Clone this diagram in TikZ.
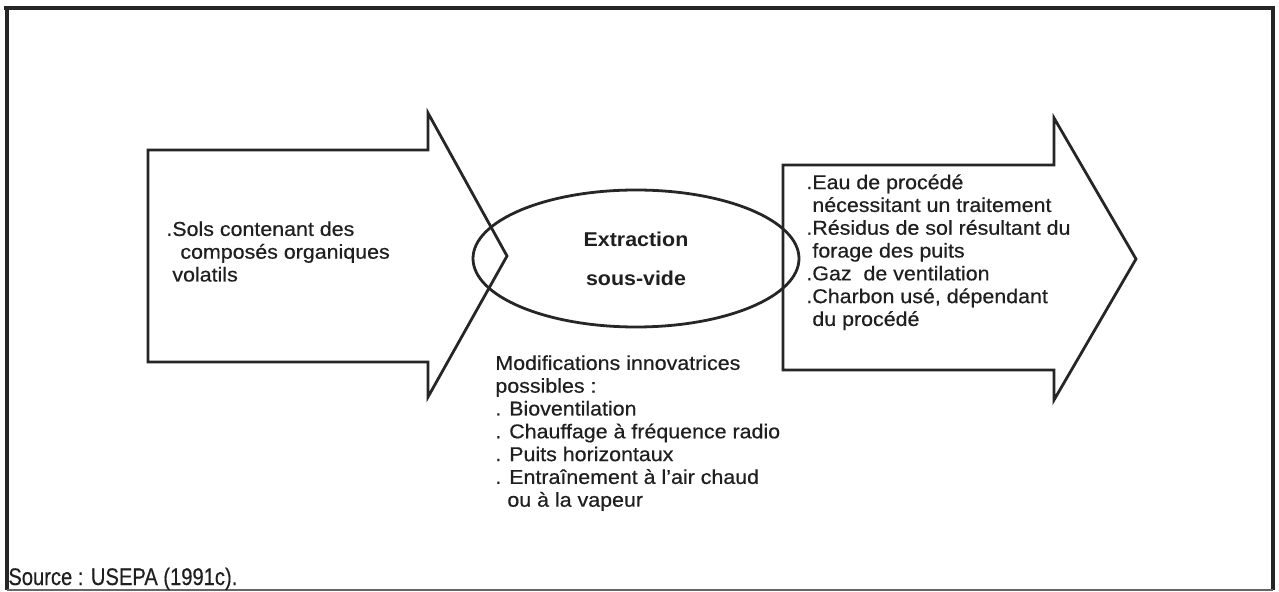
\documentclass[tikz,border=0pt]{standalone}
\usepackage{fontspec}
\setmainfont{Liberation Sans}[FakeStretch=1.07, UprightFeatures={FakeBold=0.5}]
\newfontfamily\srcfont{Liberation Sans}[FakeStretch=0.84, FakeBold=0.4]
\usetikzlibrary{shapes.geometric}

\begin{document}
\begin{tikzpicture}[x=0.5pt, y=-0.5pt, line join=miter,
    every node/.style={text=black!88},
    txt/.style={anchor=north west, inner sep=0pt, align=left,
      font=\fontsize{10}{11.4}\selectfont},
    outline/.style={line width=1.4pt, draw=black!85}]
  \useasboundingbox (0,0) rectangle (1279,592);
  % frame
  \draw[line width=2.2pt, black!85] (4,8) -- (1275,8);
  \draw[line width=1.8pt, black!85] (7,8) -- (7,590);
  \draw[line width=1.8pt, black!85] (1273,8) -- (1273,590);
  \draw[line width=0.8pt, black!60] (7,590) -- (1273,590);
  % left arrow (input)
  \draw[outline] (428,150) -- (148,150) -- (148,362) -- (428,362)
    -- (428,397) -- (507,256) -- (428,113) -- cycle;
  % right arrow (output)
  \draw[outline] (1054,165) -- (783,165) -- (783,370) -- (1054,370)
    -- (1054,400) -- (1136,259) -- (1054,118) -- cycle;
  % process
  \node (extr) [ellipse, outline, minimum width=163pt, minimum height=68.5pt,
    inner sep=0pt, align=center, font=\bfseries\fontsize{10}{11.5}\selectfont]
    at (636,258.5) {Extraction\\[8pt]sous-vide};
  \node (sols) [txt] at (166,221)
    {.Sols contenant des\\\hspace{7pt}composés organiques\\\hspace{3pt}volatils};
  \node (rejets) [txt] at (806,174)
    {.Eau de procédé\\\hspace{3pt}nécessitant un traitement\\
     .Résidus de sol résultant du\\\hspace{3pt}forage des puits\\
     .Gaz\ \ de ventilation\\.Charbon usé, dépendant\\\hspace{3pt}du procédé};
  \node (modif) [txt] at (495,355)
    {Modifications innovatrices\\possibles :\\. Bioventilation\\
     . Chauffage à fréquence radio\\. Puits horizontaux\\
     . Entraînement à l'air chaud\\\hspace{6pt}ou à la vapeur};
  \node (source) [anchor=base west, inner sep=0pt,
    font=\srcfont\fontsize{12}{13}\selectfont] at (8,585)
    {Source : USEPA (1991c).};
\end{tikzpicture}
\end{document}
